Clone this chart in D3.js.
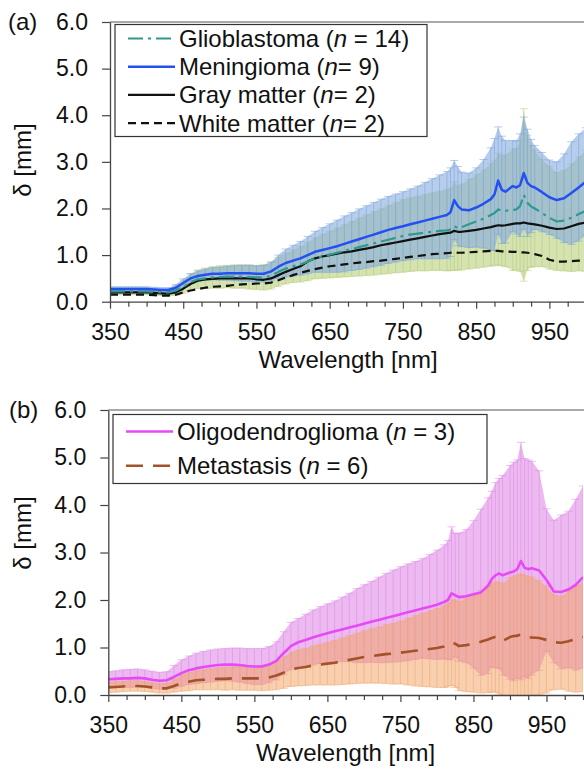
<!DOCTYPE html>
<html>
<head>
<meta charset="utf-8">
<script src="https://cdn.jsdelivr.net/npm/d3@7"></script>
<style>
  body { margin: 0; background: #fff; }
  svg { display: block; }
  text { font-family: "Liberation Sans", Arial, sans-serif; fill: #111; }
</style>
</head>
<body>
<div id="chart"></div>
<script>
// wavelengths shared by every series (nm)
const wavelengths = [350,360,370,380,390,400,410,420,430,440,450,460,470,480,490,500,510,520,530,540,
  550,560,570,580,590,600,610,620,630,640,650,660,670,680,690,700,710,720,730,740,
  750,760,770,780,790,800,810,815,820,825,830,840,850,860,870,875,880,885,890,900,
  905,910,915,920,925,930,940,950,960,970,980,990,1000];

// panel (a)
const glioMean = [0.22,0.22,0.22,0.22,0.22,0.22,0.21,0.20,0.20,0.24,0.32,0.42,0.48,0.50,0.52,0.53,0.54,0.54,0.54,0.53,
  0.52,0.52,0.56,0.64,0.71,0.76,0.80,0.86,0.93,0.97,1.01,1.05,1.09,1.13,1.17,1.21,1.25,1.29,1.33,1.37,
  1.41,1.44,1.46,1.48,1.50,1.52,1.53,1.55,1.62,1.58,1.60,1.66,1.72,1.78,1.86,1.90,1.98,1.95,1.95,1.97,
  1.98,2.05,2.29,2.12,2.04,2.00,1.90,1.80,1.72,1.74,1.80,1.88,1.95];
const glioSd = [0.07,0.07,0.07,0.07,0.07,0.07,0.07,0.07,0.07,0.10,0.14,0.18,0.20,0.22,0.23,0.24,0.24,0.25,0.25,0.26,
  0.26,0.27,0.29,0.31,0.33,0.35,0.38,0.41,0.44,0.47,0.50,0.53,0.56,0.59,0.62,0.65,0.68,0.70,0.73,0.75,
  0.78,0.79,0.80,0.82,0.83,0.85,0.87,0.88,0.95,0.90,0.92,0.96,1.00,1.04,1.10,1.12,1.20,1.18,1.20,1.30,
  1.30,1.40,1.85,1.45,1.30,1.25,1.15,1.10,1.05,1.08,1.15,1.22,1.30];
const meninMean = [0.27,0.27,0.27,0.27,0.27,0.27,0.26,0.25,0.25,0.30,0.40,0.50,0.55,0.58,0.60,0.60,0.61,0.61,0.61,0.61,
  0.60,0.60,0.65,0.75,0.83,0.88,0.93,1.00,1.07,1.11,1.15,1.19,1.24,1.29,1.34,1.39,1.44,1.49,1.54,1.58,
  1.62,1.66,1.70,1.74,1.78,1.82,1.86,1.92,2.18,2.05,1.98,1.96,2.02,2.10,2.20,2.30,2.60,2.40,2.36,2.48,
  2.45,2.50,2.76,2.55,2.48,2.45,2.35,2.24,2.18,2.22,2.33,2.45,2.58];
const meninSd = [0.05,0.05,0.05,0.05,0.05,0.05,0.05,0.05,0.05,0.07,0.09,0.10,0.11,0.12,0.13,0.14,0.15,0.16,0.17,0.17,
  0.17,0.18,0.20,0.25,0.30,0.33,0.36,0.40,0.44,0.48,0.52,0.56,0.60,0.62,0.65,0.67,0.69,0.71,0.72,0.73,
  0.74,0.76,0.78,0.82,0.86,0.90,0.93,0.95,0.85,0.85,0.80,0.80,0.85,0.95,1.10,1.20,1.15,1.15,1.10,0.98,
  1.00,1.10,1.20,1.15,1.00,0.90,0.85,0.80,0.82,0.95,1.10,1.15,1.15];
const grayMean = [0.20,0.20,0.20,0.20,0.20,0.20,0.19,0.18,0.17,0.20,0.28,0.38,0.45,0.48,0.49,0.50,0.50,0.50,0.50,0.50,
  0.48,0.47,0.50,0.57,0.64,0.70,0.76,0.86,0.93,0.97,1.00,1.03,1.06,1.08,1.11,1.14,1.17,1.21,1.24,1.27,
  1.30,1.33,1.36,1.39,1.42,1.45,1.47,1.48,1.52,1.50,1.50,1.52,1.54,1.57,1.60,1.62,1.64,1.63,1.64,1.67,
  1.68,1.68,1.70,1.68,1.67,1.66,1.63,1.59,1.56,1.57,1.62,1.67,1.70];
const whiteMean = [0.15,0.15,0.15,0.15,0.15,0.15,0.14,0.13,0.13,0.15,0.20,0.24,0.27,0.30,0.32,0.33,0.34,0.36,0.37,0.38,
  0.39,0.39,0.41,0.46,0.52,0.57,0.62,0.66,0.70,0.73,0.76,0.78,0.80,0.82,0.84,0.85,0.87,0.88,0.90,0.92,
  0.94,0.96,0.98,1.00,1.02,1.03,1.04,1.05,1.06,1.05,1.05,1.06,1.07,1.08,1.09,1.09,1.09,1.08,1.08,1.07,
  1.07,1.06,1.06,1.05,1.04,1.02,0.98,0.90,0.86,0.86,0.87,0.88,0.89];

// panel (b)
const oligoMean = [0.33,0.34,0.35,0.35,0.36,0.35,0.32,0.30,0.31,0.38,0.46,0.52,0.56,0.59,0.61,0.63,0.64,0.64,0.63,0.61,
  0.60,0.60,0.64,0.72,0.88,1.03,1.11,1.16,1.21,1.26,1.30,1.34,1.38,1.42,1.46,1.50,1.54,1.58,1.62,1.66,
  1.70,1.74,1.78,1.82,1.86,1.90,1.96,2.00,2.14,2.10,2.06,2.08,2.12,2.16,2.30,2.44,2.52,2.56,2.52,2.58,
  2.60,2.65,2.82,2.68,2.65,2.67,2.62,2.42,2.18,2.17,2.22,2.32,2.48];
const oligoSd = [0.16,0.17,0.18,0.19,0.19,0.18,0.18,0.18,0.18,0.24,0.28,0.30,0.32,0.33,0.34,0.34,0.34,0.35,0.36,0.37,
  0.38,0.38,0.38,0.40,0.45,0.50,0.50,0.54,0.58,0.60,0.62,0.64,0.68,0.72,0.78,0.82,0.85,0.90,0.94,0.97,
  1.00,1.02,1.03,1.05,1.10,1.15,1.20,1.25,1.40,1.30,1.35,1.40,1.55,1.75,1.85,1.85,1.95,2.00,2.10,2.25,
  2.30,2.30,2.50,2.30,2.30,2.25,2.10,1.50,1.50,1.62,1.65,1.80,1.92];
const metaMean = [0.16,0.17,0.18,0.19,0.19,0.18,0.16,0.14,0.14,0.19,0.25,0.28,0.31,0.32,0.33,0.34,0.34,0.35,0.35,0.35,
  0.35,0.35,0.37,0.41,0.47,0.54,0.57,0.59,0.62,0.64,0.66,0.68,0.71,0.74,0.77,0.80,0.82,0.84,0.86,0.87,
  0.89,0.91,0.93,0.95,0.97,0.99,1.02,1.05,1.10,1.08,1.03,1.05,1.08,1.12,1.17,1.20,1.22,1.20,1.14,1.22,
  1.24,1.25,1.27,1.24,1.21,1.21,1.20,1.16,1.11,1.10,1.13,1.18,1.22];
const metaSd = [0.11,0.11,0.11,0.11,0.11,0.11,0.10,0.10,0.10,0.13,0.17,0.19,0.20,0.21,0.22,0.23,0.24,0.24,0.25,0.25,
  0.25,0.26,0.27,0.30,0.33,0.36,0.38,0.39,0.41,0.43,0.45,0.47,0.49,0.51,0.53,0.55,0.57,0.59,0.62,0.64,
  0.66,0.70,0.74,0.77,0.80,0.83,0.86,0.88,0.90,0.92,0.94,0.98,1.02,1.08,1.12,1.14,1.16,1.18,1.20,1.25,
  1.26,1.27,1.28,1.28,1.28,1.27,1.20,1.12,1.00,0.98,1.05,1.12,1.15];

const xTickLabels = [350, 450, 550, 650, 750, 850, 950];
const yTickLabels = [0, 1, 2, 3, 4, 5, 6];

const svg = d3.select('#chart').append('svg')
    .attr('width', 584)
    .attr('height', 770);

function zipSeries(mean, sd){
    return wavelengths.map(function(w, i){
        return {w: w, m: mean[i], sd: sd ? sd[i] : 0};
    });
}

function drawBand(g, x, y, b){
    let data = zipSeries(b.mean, b.sd);
    let area = d3.area()
        .x(d => x(d.w))
        .y0(d => y(d.m - d.sd))
        .y1(d => y(d.m + d.sd));
    g.append('path').datum(data)
        .attr('d', area)
        .attr('fill', b.fill)
        .attr('fill-opacity', b.opacity);
    // error bars with caps
    let bars = g.append('g')
        .attr('stroke', b.bar)
        .attr('stroke-opacity', 0.55)
        .attr('stroke-width', 1);
    bars.selectAll('line.v').data(data).enter().append('line')
        .attr('class', 'v')
        .attr('x1', d => x(d.w)).attr('x2', d => x(d.w))
        .attr('y1', d => y(d.m - d.sd)).attr('y2', d => y(d.m + d.sd));
    bars.selectAll('line.cu').data(data).enter().append('line')
        .attr('class', 'cu')
        .attr('x1', d => x(d.w) - 4).attr('x2', d => x(d.w) + 4)
        .attr('y1', d => y(d.m + d.sd)).attr('y2', d => y(d.m + d.sd));
    bars.selectAll('line.cl').data(data).enter().append('line')
        .attr('class', 'cl')
        .attr('x1', d => x(d.w) - 4).attr('x2', d => x(d.w) + 4)
        .attr('y1', d => y(d.m - d.sd)).attr('y2', d => y(d.m - d.sd));
}

function drawPanel(p){
    const x = d3.scaleLinear().domain([350, 1000]).range([p.left, p.right]);
    const y = d3.scaleLinear().domain([0, 6]).range([p.bottom, p.top]);
    const g = svg.append('g');

    svg.append('clipPath').attr('id', 'clip-' + p.id)
        .append('rect')
        .attr('x', p.left).attr('y', p.top)
        .attr('width', p.right - p.left).attr('height', p.bottom - p.top);
    const plot = g.append('g').attr('clip-path', 'url(#clip-' + p.id + ')');

    p.bands.forEach(b => drawBand(plot, x, y, b));

    let line = d3.line().x(d => x(d.w)).y(d => y(d.m));
    p.lines.forEach(function(l){
        plot.append('path').datum(zipSeries(l.mean))
            .attr('d', line)
            .attr('fill', 'none')
            .attr('stroke', l.color)
            .attr('stroke-width', l.width)
            .attr('stroke-dasharray', l.dash)
            .attr('stroke-linejoin', 'round');
    });

    // top frame line
    g.append('line')
        .attr('x1', p.left).attr('x2', 584)
        .attr('y1', p.top).attr('y2', p.top)
        .attr('stroke', '#555').attr('stroke-width', 1.2);

    const xAxis = g.append('g')
        .attr('transform', `translate(0,${p.bottom})`)
        .call(d3.axisBottom(x)
            .tickValues(d3.range(350, 1001, 25))
            .tickFormat(d => xTickLabels.includes(d) ? d : '')
            .tickSize(5).tickSizeOuter(0).tickPadding(17));
    xAxis.selectAll('.tick line')
        .attr('y2', d => xTickLabels.includes(d) ? 7 : 5);

    const yAxis = g.append('g')
        .attr('transform', `translate(${p.left},0)`)
        .call(d3.axisLeft(y)
            .tickValues(yTickLabels)
            .tickFormat(d3.format('.1f'))
            .tickSize(8).tickSizeOuter(0).tickPadding(14));

    [xAxis, yAxis].forEach(function(a){
        a.select('.domain').attr('stroke', '#444').attr('stroke-width', 1.3);
        a.selectAll('.tick line').attr('stroke', '#444').attr('stroke-width', 1.2);
        a.selectAll('.tick text')
            .style('font-family', '"Liberation Sans", Arial, sans-serif')
            .style('font-size', '23px')
            .attr('fill', '#111');
    });

    // axis titles
    g.append('text')
        .attr('x', (p.left + p.right) / 2)
        .attr('y', p.bottom + 66)
        .attr('text-anchor', 'middle')
        .style('font-size', '24px')
        .text('Wavelength [nm]');
    g.append('text')
        .attr('transform', `translate(${p.ylabX},${p.ylabY}) rotate(-90)`)
        .attr('text-anchor', 'middle')
        .attr('dy', '0.35em')
        .style('font-size', '24px')
        .text('δ [mm]');
    g.append('text')
        .attr('x', p.tagX).attr('y', p.top + 8)
        .style('font-size', '24px')
        .text(p.tag);

    // legend
    const leg = g.append('g');
    leg.append('rect')
        .attr('x', p.legend.x).attr('y', p.legend.y)
        .attr('width', p.legend.w).attr('height', p.legend.h)
        .attr('fill', '#fff').attr('stroke', '#333').attr('stroke-width', 1.2);
    p.lines.slice().sort((a, b) => a.order - b.order).forEach(function(l, i){
        let cy = p.legend.row0 + i * p.legend.step;
        leg.append('line')
            .attr('x1', p.legend.x + 13).attr('x2', p.legend.x + 60)
            .attr('y1', cy).attr('y2', cy)
            .attr('stroke', l.color)
            .attr('stroke-width', l.width)
            .attr('stroke-dasharray', l.dash);
        let t = leg.append('text')
            .attr('x', p.legend.x + 64).attr('y', cy + 8.5)
            .style('font-size', '24px');
        t.append('tspan').text(l.name + ' (');
        t.append('tspan').style('font-style', 'italic').text('n');
        t.append('tspan').text(l.count + ')');
    });
}

drawPanel({
    id: 'a', tag: '(a)', tagX: 8,
    left: 110, right: 586, top: 22, bottom: 301.7,
    ylabX: 23, ylabY: 160,
    legend: {x: 115, y: 24.5, w: 312, h: 112, row0: 38.5, step: 28.2},
    bands: [
        {mean: glioMean, sd: glioSd, fill: '#c6d994', opacity: 0.75, bar: '#b5cc7a'},
        {mean: meninMean, sd: meninSd, fill: '#86abe0', opacity: 0.6, bar: '#7aa3dc'}
    ],
    lines: [
        {name: 'White matter', count: '= 2', order: 3, mean: whiteMean, color: '#111', width: 2.2, dash: '8,5'},
        {name: 'Gray matter', count: '= 2', order: 2, mean: grayMean, color: '#111', width: 2.2, dash: null},
        {name: 'Glioblastoma', count: ' = 14', order: 0, mean: glioMean, color: '#2e9a8e', width: 2.2, dash: '15,5,3,5'},
        {name: 'Meningioma', count: '= 9', order: 1, mean: meninMean, color: '#2450f2', width: 2.5, dash: null}
    ]
});

drawPanel({
    id: 'b', tag: '(b)', tagX: 9,
    left: 108.3, right: 583, top: 410, bottom: 695,
    ylabX: 23, ylabY: 533,
    legend: {x: 113, y: 414.5, w: 374, h: 69, row0: 431.5, step: 34.3},
    bands: [
        {mean: oligoMean, sd: oligoSd, fill: '#e08ce8', opacity: 0.6, bar: '#de86e6'},
        {mean: metaMean, sd: metaSd, fill: '#f2a060', opacity: 0.5, bar: '#f0a86c'}
    ],
    lines: [
        {name: 'Metastasis', count: ' = 6', order: 1, mean: metaMean, color: '#a3532a', width: 2.6, dash: '17,10'},
        {name: 'Oligodendroglioma', count: ' = 3', order: 0, mean: oligoMean, color: '#e64af5', width: 2.6, dash: null}
    ]
});
</script>
</body>
</html>
